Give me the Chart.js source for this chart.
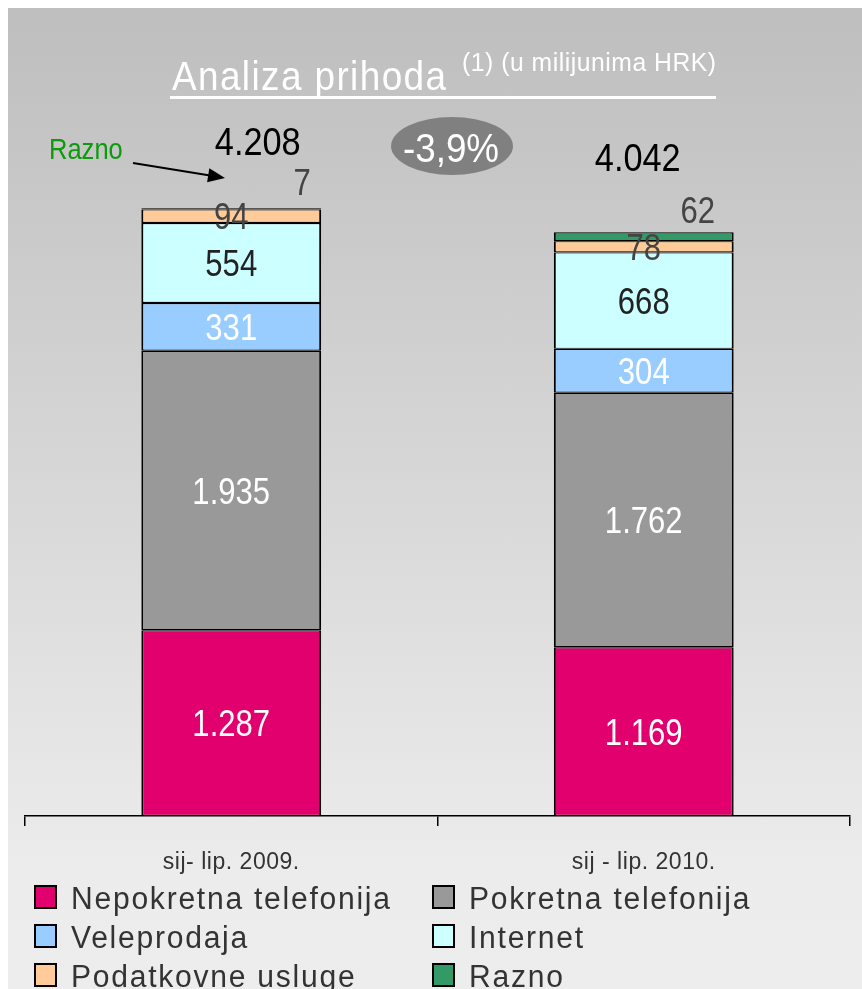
<!DOCTYPE html>
<html><head><meta charset="utf-8">
<script src="https://cdn.jsdelivr.net/npm/chart.js@4/dist/chart.umd.min.js"></script>
<style>
html,body{margin:0;padding:0;background:#fff;overflow:hidden;}
#bg{position:absolute;left:8px;top:8px;width:854px;height:981px;background:linear-gradient(#bebebe 0%, #ececec 88%, #ededed 100%);}
#c{position:absolute;left:0;top:0;}
</style></head><body>
<div id="bg"></div>
<canvas id="c" width="862" height="989"></canvas>
<script>
const categories = ['sij- lip. 2009.', 'sij - lip. 2010.'];
const seriesNames = ['Nepokretna telefonija', 'Pokretna telefonija', 'Veleprodaja', 'Internet', 'Podatkovne usluge', 'Razno'];
const nepokretna = [1287, 1169];
const pokretna = [1935, 1762];
const veleprodaja = [331, 304];
const internet = [554, 668];
const podatkovne = [94, 78];
const razno = [7, 62];
const totals = [4208, 4042];
const changeLabel = '-3,9%';
const titleText = 'Analiza prihoda';
const subtitleText = '(1) (u milijunima HRK)';
const calloutText = 'Razno';

const colors = ['#e2006f', '#999999', '#99ccff', '#ccffff', '#ffcc99', '#339966'];
const labelColors = ['#ffffff', '#ffffff', '#ffffff', '#222222', '#444444', '#444444'];
const FONT = "'Liberation Sans', Arial, sans-serif";
const font = s => s + 'px ' + FONT;
const fmt = v => String(v).replace(/\B(?=(\d{3})+(?!\d))/g, '.');

// draw horizontally condensed text; target = desired visible width (px), baseline at y
function drawText(ctx, text, x, y, size, align, sx, target) {
  ctx.save();
  ctx.font = font(size);
  ctx.letterSpacing = '0px';
  ctx.textAlign = 'left';
  ctx.textBaseline = 'alphabetic';
  const n = [...text].length;
  const w = ctx.measureText(text).width;
  let ls = 0;
  if (target) ls = (target / sx - w) / Math.max(1, n - 1);
  const total = w + ls * (n - 1);
  ctx.letterSpacing = ls + 'px';
  ctx.translate(x, y);
  ctx.scale(sx, 1);
  let ox = 0;
  if (align === 'center') ox = -total / 2;
  else if (align === 'right') ox = -total;
  ctx.fillText(text, ox, 0);
  ctx.restore();
  return ls;
}
function num(ctx, text, x, cy, size, sx) {
  drawText(ctx, text, x, cy + size * 0.358, size, 'center', sx);
}

const overlay = {
  id: 'overlay',
  beforeDraw(chart) {
    const ctx = chart.ctx;
    ctx.font = font(23);
    ctx.letterSpacing = '0px';
    const w = ctx.measureText(categories[0]).width;
    ctx.letterSpacing = ((137 - w) / categories[0].length) + 'px';
  },
  afterDraw(chart) {
    const ctx = chart.ctx;
    ctx.save();
    ctx.letterSpacing = '0px';
    // segment labels
    const rznOff = [[71, -26.5], [54, -22.5]];
    const totOff = [[26.5, -67], [-6, -75]];
    chart.data.datasets.forEach((ds, di) => {
      const meta = chart.getDatasetMeta(di);
      meta.data.forEach((el, i) => {
        let x = el.x, y = (el.y + el.base) / 2;
        if (di === 5) { x += rznOff[i][0]; y = el.y + rznOff[i][1]; }
        ctx.fillStyle = labelColors[di];
        num(ctx, fmt(ds.data[i]), x, y, 37, 0.84);
      });
    });
    // totals
    const topMeta = chart.getDatasetMeta(5);
    topMeta.data.forEach((el, i) => {
      ctx.fillStyle = '#000';
      num(ctx, fmt(totals[i]), el.x + totOff[i][0], el.y + totOff[i][1], 39, 0.88);
    });
    // title
    ctx.fillStyle = '#fff';
    drawText(ctx, titleText, 172, 90, 41, 'left', 0.9, 274);
    drawText(ctx, subtitleText, 462, 71, 26, 'left', 0.95, 254);
    ctx.fillRect(170, 96, 546, 3);
    // change ellipse
    ctx.fillStyle = '#808080';
    ctx.beginPath();
    ctx.ellipse(452, 146, 61, 29, 0, 0, Math.PI * 2);
    ctx.fill();
    ctx.fillStyle = '#fff';
    drawText(ctx, changeLabel, 451, 147.5 + 40 * 0.358, 40, 'center', 0.92);
    // callout
    ctx.fillStyle = '#0b9b0b';
    drawText(ctx, calloutText, 49, 148.5 + 29 * 0.358, 29, 'left', 0.88);
    const x0 = 133, y0 = 163, x1 = 225, y1 = 178;
    const dx = x1 - x0, dy = y1 - y0, L = Math.hypot(dx, dy), ux = dx / L, uy = dy / L;
    ctx.strokeStyle = '#000'; ctx.lineWidth = 2;
    ctx.beginPath(); ctx.moveTo(x0, y0); ctx.lineTo(x1 - ux * 12, y1 - uy * 12); ctx.stroke();
    ctx.fillStyle = '#000';
    ctx.beginPath();
    ctx.moveTo(x1, y1);
    ctx.lineTo(x1 - ux * 17 - uy * 7, y1 - uy * 17 + ux * 7);
    ctx.lineTo(x1 - ux * 17 + uy * 7, y1 - uy * 17 - ux * 7);
    ctx.closePath(); ctx.fill();
    // legend
    const LSX = 0.97, LFS = 31;
    const colX = [34, 432], rowY = [897, 936, 975];
    ctx.save();
    ctx.font = font(LFS);
    ctx.letterSpacing = '0px';
    const w0 = ctx.measureText(seriesNames[0]).width;
    const lls = (319 / LSX - w0) / (seriesNames[0].length - 1);
    ctx.restore();
    seriesNames.forEach((name, i) => {
      const sx = colX[i % 2], cy = rowY[Math.floor(i / 2)];
      ctx.fillStyle = '#000';
      ctx.fillRect(sx, cy - 12, 23, 24);
      ctx.fillStyle = colors[i];
      ctx.fillRect(sx + 2, cy - 10, 19, 20);
      ctx.fillStyle = '#333';
      ctx.save();
      ctx.font = font(LFS);
      ctx.letterSpacing = lls + 'px';
      ctx.textAlign = 'left';
      ctx.textBaseline = 'alphabetic';
      ctx.translate(sx + 37, cy + 12);
      ctx.scale(LSX, 1);
      ctx.fillText(name, 0, 0);
      ctx.restore();
    });
    ctx.restore();
  }
};

const series = [nepokretna, pokretna, veleprodaja, internet, podatkovne, razno];
new Chart(document.getElementById('c'), {
  type: 'bar',
  data: {
    labels: categories,
    datasets: series.map((d, i) => ({
      label: seriesNames[i],
      data: d,
      backgroundColor: colors[i],
      borderColor: '#000',
      borderWidth: { top: 1.2, bottom: 1.2, left: 2, right: 2 },
      borderSkipped: false,
      barPercentage: 0.436,
      categoryPercentage: 1
    }))
  },
  options: {
    responsive: false,
    animation: false,
    layout: { padding: { left: 25, right: 12, top: 94, bottom: 0 } },
    plugins: { legend: { display: false }, tooltip: { enabled: false } },
    scales: {
      x: {
        stacked: true,
        grid: { drawOnChartArea: false, drawTicks: true, tickLength: 10, color: '#000', lineWidth: 1.5, offset: true },
        border: { display: true, color: '#000', width: 1.5 },
        ticks: { color: '#333', font: { size: 23, family: FONT }, padding: 23 },
        afterFit(axis) { axis.height = 173; }
      },
      y: { stacked: true, display: false, min: 0, max: 5000 }
    }
  },
  plugins: [overlay]
});
</script>
</body></html>
